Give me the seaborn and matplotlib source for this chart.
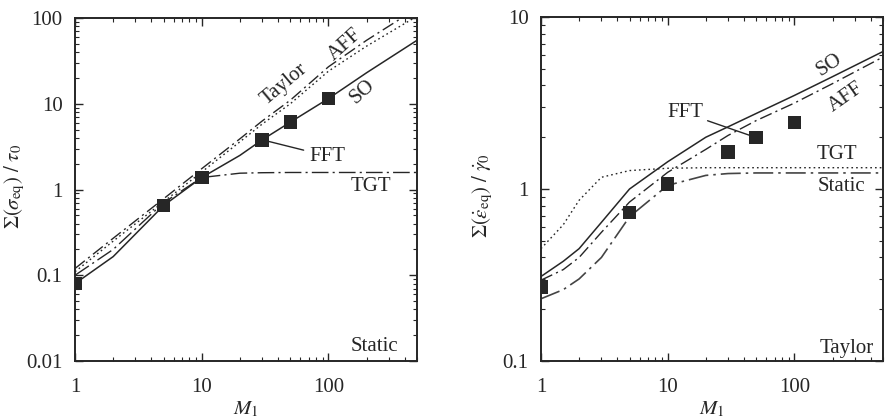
import matplotlib
matplotlib.use("Agg")
import matplotlib.pyplot as plt
import matplotlib.ticker as mticker
import seaborn as sns

# left panel: stress
m_left = [1, 2, 5, 10, 20, 30, 50, 100, 200, 500]
so_left = [0.08, 0.165, 0.65, 1.38, 2.5, 3.8, 6.1, 11.5, 23, 55]
taylor_left = [0.12, 0.27, 0.78, 1.75, 3.9, 6.3, 11, 27, 55, 130]
aff_left = [0.11, 0.25, 0.72, 1.6, 3.6, 5.8, 10, 24, 47, 105]
tgt_left = [0.1, 0.2, 0.7, 1.38, 1.55, 1.57, 1.58, 1.58, 1.58, 1.58]
fft_m = [1, 5, 10, 30, 50, 100]
fft_left = [0.08, 0.65, 1.38, 3.8, 6.1, 11.5]

# right panel: strain rate
m_right = [1, 1.5, 2, 3, 5, 10, 20, 30, 50, 100, 200, 500]
so_right = [0.31, 0.38, 0.45, 0.64, 1.0, 1.44, 2.0, 2.3, 2.75, 3.5, 4.5, 6.3]
aff_right = [0.295, 0.34, 0.40, 0.56, 0.84, 1.25, 1.7, 2.05, 2.5, 3.16, 4.1, 5.85]
static_right = [0.23, 0.26, 0.30, 0.40, 0.69, 1.05, 1.2, 1.23, 1.24, 1.24, 1.24, 1.24]
tgt_right = [0.45, 0.62, 0.86, 1.17, 1.28, 1.32, 1.33, 1.33, 1.33, 1.33, 1.33, 1.33]
fft_right = [0.27, 0.73, 1.07, 1.64, 1.99, 2.43]

sns.set_style("ticks")
plt.rcParams["font.family"] = ["Liberation Serif", "DejaVu Serif"]
plt.rcParams["mathtext.fontset"] = "stix"
plt.rcParams["font.size"] = 15

ink = "#262626"
dashdot = (0, (9, 3, 1.5, 3))
dashdot2 = (0, (12, 3, 1.5, 3))
dotted = (0, (1.2, 2.2))

fig = plt.figure(figsize=(8.89, 4.19), dpi=100)
ax1 = fig.add_axes([0.0844, 0.1384, 0.3847, 0.8186])
ax2 = fig.add_axes([0.6085, 0.1384, 0.3847, 0.8210])

sns.lineplot(x=m_left, y=so_left, ax=ax1, color=ink, lw=1.1)
sns.lineplot(x=m_left, y=taylor_left, ax=ax1, color=ink, lw=1.0, linestyle=dashdot)
sns.lineplot(x=m_left, y=aff_left, ax=ax1, color=ink, lw=1.0, linestyle=dotted)
sns.lineplot(x=m_left, y=tgt_left, ax=ax1, color=ink, lw=1.0, linestyle=dashdot2)
sns.scatterplot(x=fft_m, y=fft_left, ax=ax1, marker="s", s=95, color=ink,
                edgecolor="none", zorder=5)

sns.lineplot(x=m_right, y=so_right, ax=ax2, color=ink, lw=1.1)
sns.lineplot(x=m_right, y=aff_right, ax=ax2, color=ink, lw=1.0, linestyle=dashdot)
sns.lineplot(x=m_right, y=static_right, ax=ax2, color="#444444", lw=1.2, linestyle=dashdot2)
sns.lineplot(x=m_right, y=tgt_right, ax=ax2, color=ink, lw=1.0, linestyle=dotted)
sns.scatterplot(x=fft_m, y=fft_right, ax=ax2, marker="s", s=95, color=ink,
                edgecolor="none", zorder=5)

fmt = mticker.FuncFormatter(lambda v, p: f"{v:g}")
for ax, ylim in ((ax1, (0.01, 100)), (ax2, (0.1, 10))):
    ax.set_xscale("log")
    ax.set_yscale("log")
    ax.set_xlim(1, 500)
    ax.set_ylim(*ylim)
    ax.xaxis.set_major_formatter(fmt)
    ax.yaxis.set_major_formatter(fmt)
    ax.xaxis.set_minor_locator(mticker.LogLocator(base=10, subs=range(2, 10)))
    ax.yaxis.set_minor_locator(mticker.LogLocator(base=10, subs=range(2, 10)))
    ax.xaxis.set_minor_formatter(mticker.NullFormatter())
    ax.yaxis.set_minor_formatter(mticker.NullFormatter())
    ax.tick_params(which="both", direction="in", top=True, right=True,
                   colors=ink, labelcolor=ink, labelsize=15)
    ax.tick_params(which="major", length=6, width=1.0)
    ax.tick_params(axis="x", which="major", pad=12)
    ax.tick_params(axis="y", which="major", pad=9)
    ax.tick_params(which="minor", length=3, width=0.8)
    for sp in ax.spines.values():
        sp.set_color(ink)
        sp.set_linewidth(1.4)
    ax.set_xlabel(r"$M_1$", fontsize=15, color=ink)
    ax.xaxis.set_label_coords(0.5, -0.112)

ax1.set_ylabel(r"$\Sigma(\sigma_{\rm eq})\ /\ \tau_0$", fontsize=15, color=ink)
ax1.yaxis.set_label_coords(-0.14, 0.51)
ax2.set_ylabel(r"$\Sigma(\dot{\varepsilon}_{\rm eq})\ /\ \dot{\gamma}_0$", fontsize=15,
               color=ink)
ax2.yaxis.set_label_coords(-0.135, 0.48)

tk = dict(color=ink, fontsize=15, ha="center", va="center")
ax1.text(45, 16.8, "Taylor", rotation=40, **tk)
ax1.text(134, 49, "AFF", rotation=42, **tk)
ax1.text(185, 13.9, "SO", rotation=42, **tk)
ax1.text(218, 1.08, "TGT", **tk)
ax1.text(230, 0.0148, "Static", **tk)
ax1.annotate("FFT", xy=(30, 3.8), xytext=(71, 2.45), textcoords="data",
             color=ink, fontsize=15, ha="left", va="center",
             arrowprops=dict(arrowstyle="-", color=ink, lw=1.0, shrinkA=2, shrinkB=0))

ax2.text(189, 5.26, "SO", rotation=33, **tk)
ax2.text(257, 3.43, "AFF", rotation=35, **tk)
ax2.text(218, 1.58, "TGT", **tk)
ax2.text(234, 1.03, "Static", **tk)
ax2.text(257, 0.119, "Taylor", **tk)
ax2.annotate("FFT", xy=(50, 1.99), xytext=(19, 2.77), textcoords="data",
             color=ink, fontsize=15, ha="right", va="center",
             arrowprops=dict(arrowstyle="-", color=ink, lw=1.0, shrinkA=1, shrinkB=0))

fig.savefig("out.png", dpi=100)
